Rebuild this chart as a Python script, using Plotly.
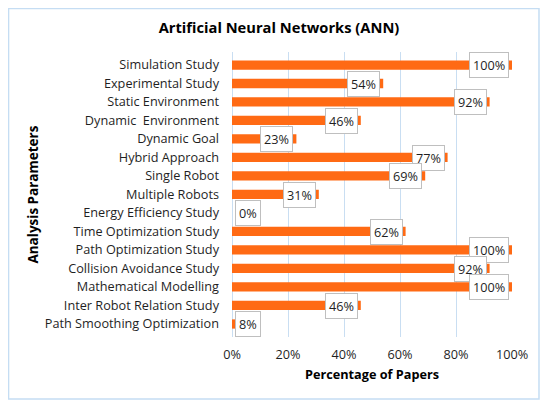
import plotly.graph_objects as go

# data
categories = [
    "Simulation Study",
    "Experimental Study",
    "Static Environment",
    "Dynamic  Environment",
    "Dynamic Goal",
    "Hybrid Approach",
    "Single Robot",
    "Multiple Robots",
    "Energy Efficiency Study",
    "Time Optimization Study",
    "Path Optimization Study",
    "Collision Avoidance Study",
    "Mathematical Modelling",
    "Inter Robot Relation Study",
    "Path Smoothing Optimization",
]
percentages = [100, 54, 92, 46, 23, 77, 69, 31, 0, 62, 100, 92, 100, 46, 8]
x_ticks = [0, 20, 40, 60, 80, 100]
x_tick_labels = [f"{v}%" for v in x_ticks]

FONT = "Open Sans"
BAR_COLOR = "#FF6A14"
GRID_COLOR = "#C9DEF2"
TEXT_COLOR = "#1F1F1F"

fig = go.Figure()

fig.add_trace(
    go.Bar(
        x=percentages,
        y=categories,
        orientation="h",
        marker=dict(color=BAR_COLOR, line=dict(width=0)),
        hoverinfo="x+y",
    )
)

# data labels in white boxes at the end of each bar
for cat, val in zip(categories, percentages):
    if val < 12:
        # too short for the label to sit inside, put it at the start
        x_pos, anchor, shift = 0, "left", 3
    else:
        x_pos, anchor, shift = val, "right", -3
    fig.add_annotation(
        x=x_pos, y=cat,
        xref="x", yref="y",
        text=f"{val}%",
        showarrow=False,
        xanchor=anchor, yanchor="middle",
        xshift=shift,
        font=dict(family=FONT, size=12.7, color=TEXT_COLOR),
        bgcolor="white",
        bordercolor="#BFBFBF",
        borderwidth=1,
        borderpad=3,
    )

# y axis title as rotated annotation
fig.add_annotation(
    x=-0.714, y=0.5,
    xref="paper", yref="paper",
    text="<b>Analysis Parameters</b>",
    textangle=-90,
    showarrow=False,
    xanchor="center", yanchor="middle",
    font=dict(family=FONT, size=13.5, color="#000000"),
)

# light blue frame round the whole chart
fig.add_shape(
    type="rect",
    xref="paper", yref="paper",
    x0=-0.798, x1=1.0964, y0=-0.2175, y1=1.1526,
    line=dict(color="#C5DDF3", width=1.5),
    fillcolor="rgba(0,0,0,0)",
    layer="below",
)

fig.update_xaxes(
    range=[0, 100],
    tickmode="array",
    tickvals=x_ticks,
    ticktext=x_tick_labels,
    showgrid=True,
    gridcolor=GRID_COLOR,
    gridwidth=1,
    zeroline=True,
    zerolinecolor=GRID_COLOR,
    zerolinewidth=1,
    showline=False,
    ticks="",
    ticklabelstandoff=8,
    tickfont=dict(family=FONT, size=12.7, color=TEXT_COLOR),
    title=dict(
        text="<b>Percentage of Papers</b>",
        font=dict(family=FONT, size=12.7, color="#000000"),
        standoff=8,
    ),
    fixedrange=True,
)

fig.update_yaxes(
    autorange="reversed",
    showgrid=False,
    showline=False,
    ticks="",
    ticklabelstandoff=12,
    tickfont=dict(family=FONT, size=12.7, color=TEXT_COLOR),
    fixedrange=True,
)

# page body has an 8px margin, so the figure is 8px smaller and shifted
fig.update_layout(
    width=542,
    height=397,
    margin=dict(l=224, r=38, t=44, b=68, autoexpand=False),
    paper_bgcolor="white",
    plot_bgcolor="white",
    bargap=0.5,
    showlegend=False,
    title=dict(
        text="<b>Artificial Neural Networks (ANN)</b>",
        x=0.5, xanchor="center",
        y=0.9496, yanchor="middle",
        font=dict(family=FONT, size=14.7, color="#000000"),
    ),
)

fig.write_html("out.html", config={"displayModeBar": False})
